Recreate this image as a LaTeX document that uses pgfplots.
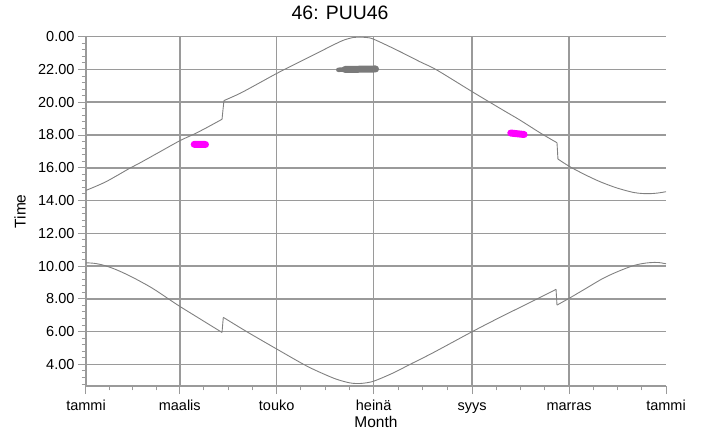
\documentclass[border=0pt]{standalone}
\usepackage{fontspec}
\setmainfont{Liberation Sans}
\usepackage{pgfplots}
\pgfplotsset{compat=1.18}
\definecolor{curve}{HTML}{808080}
\definecolor{gridc}{HTML}{9A9A9A}
\definecolor{blobgray}{HTML}{7A7A7A}
\definecolor{mag}{HTML}{FF00FF}
\begin{document}
\begin{tikzpicture}
\useasboundingbox (-86pt,-46pt) rectangle (620pt,386pt);
\begin{axis}[
  scale only axis, width=580pt, height=349.3pt,
  xmin=0, xmax=365, ymin=2.68, ymax=24,
  axis x line*=bottom, axis y line*=left,
  axis line style={gridc, line width=1.2pt},
  xtick={0,365}, xticklabels={tammi,tammi},
  extra x ticks={59,120,181,243,304},
  extra x tick labels={maalis,touko,heinä,syys,marras},
  extra x tick style={grid=major},
  minor xtick={14.75,29.5,44.25,74.25,89.5,104.75,135.25,150.5,165.75,196.5,212,227.5,258.25,273.5,288.75,319.25,334.5,349.75},
  ytick={4,6,8,10,12,14,16,18,20,22,24},
  yticklabels={4.00,6.00,8.00,10.00,12.00,14.00,16.00,18.00,20.00,22.00,0.00},
  minor ytick={2.8,3.2,3.6,4.4,4.8,5.2,5.6,6.4,6.8,7.2,7.6,8.4,8.8,9.2,9.6,10.4,10.8,11.2,11.6,12.4,12.8,13.2,13.6,14.4,14.8,15.2,15.6,16.4,16.8,17.2,17.6,18.4,18.8,19.2,19.6,20.4,20.8,21.2,21.6,22.4,22.8,23.2,23.6},
  ymajorgrids,
  major grid style={gridc, line width=1.5pt},
  tick align=outside,
  major tick length=8pt, minor tick length=4.3pt,
  tick style={gridc, line width=1pt},
  /pgf/number format/assume math mode=true,
  xticklabel style={font=\fontsize{14.5}{17}\selectfont, anchor=base, yshift=-16pt},
  yticklabel style={font=\fontsize{14.5}{17}\selectfont, anchor=east, xshift=0pt},
  title={46: PUU46},
  title style={font=\fontsize{19.4}{23}\selectfont, at={(axis description cs:0.438,1)}, anchor=base, yshift=11.7pt},
  xlabel={Month},
  xlabel style={font=\fontsize{15.5}{18}\selectfont, at={(axis description cs:0.5,-0.1174)}, anchor=base},
  ylabel={Time},
  ylabel style={font=\fontsize{15.5}{18}\selectfont, at={(axis description cs:-0.1138,0.5)}, anchor=center},
]
% sunset
\addplot[curve, line width=0.9pt, smooth] coordinates {
(0,14.62)(6,14.86)(12.6,15.15)(20,15.55)(27.7,15.98)(34,16.3)(46.6,16.98)(59.2,17.66)(67.5,18.03)(75,18.4)(85.6,18.96)
};
\addplot[curve, line width=0.9pt] coordinates {(85.6,18.96)(86.8,20.1)};
\addplot[curve, line width=0.9pt, smooth] coordinates {
(86.8,20.1)(96.9,20.54)(108,21.12)(118.9,21.7)(126.3,22.07)(143,22.88)(157.8,23.6)(163,23.82)(168.2,23.95)(172.4,23.97)(176.6,23.95)(181.2,23.84)
(195.5,23.19)(210.2,22.47)(220.7,21.97)(243.1,20.64)(260.5,19.63)(273.1,18.91)(286.3,18.10)(296.4,17.53)
};
\addplot[curve, line width=0.9pt] coordinates {(296.4,17.53)(297,16.53)};
\addplot[curve, line width=0.9pt, smooth] coordinates {
(297,16.53)(304.6,16.06)(314,15.58)(323.5,15.15)(334,14.77)(344.2,14.5)(350,14.43)(354.9,14.42)(360,14.46)(365,14.54)
};
% sunrise
\addplot[curve, line width=0.9pt, smooth] coordinates {
(0,10.20)(5,10.17)(10,10.08)(15,9.93)(20,9.74)(25,9.52)(30,9.28)(35,9.02)(40,8.75)(45,8.45)(50.8,8.07)(59.2,7.53)(71.7,6.78)(85.6,5.95)
};
\addplot[curve, line width=0.9pt] coordinates {(85.6,5.95)(86.4,6.87)};
\addplot[curve, line width=0.9pt, smooth] coordinates {
(86.4,6.87)(101.1,6.0)(118.9,5.0)(138.9,3.9)(153.5,3.25)(160,3.02)(166.1,2.87)(170.3,2.83)(174.5,2.85)(181.2,2.98)
(193.4,3.48)(203.9,4.0)(218.6,4.72)(243.1,6.0)(260.5,6.87)(283.6,7.98)(295.8,8.58)
};
\addplot[curve, line width=0.9pt] coordinates {(295.8,8.58)(296.4,7.62)};
\addplot[curve, line width=0.9pt, smooth] coordinates {
(296.4,7.62)(304,8.03)(314,8.6)(325.4,9.25)(335,9.68)(344.2,10.02)(350,10.15)(354.9,10.21)(360,10.22)(365,10.14)
};
% observations
\addplot[mag, line width=7pt, line cap=round] coordinates {(68.1,17.43)(75.2,17.42)};
\addplot[mag, line width=7pt, line cap=round] coordinates {(267.3,18.12)(275.7,18.03)};
\addplot[blobgray, line width=4.5pt, line cap=round] coordinates {(158.8,21.98)(164,22.0)};
\addplot[blobgray, line width=7pt, line cap=round] coordinates {(163,22.0)(182.2,22.03)};
\end{axis}
\end{tikzpicture}
\end{document}
